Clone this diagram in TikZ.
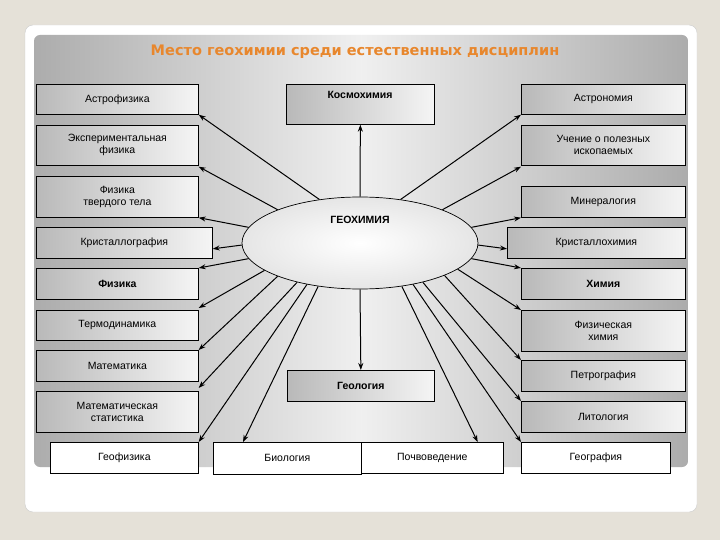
\documentclass[tikz,border=0pt]{standalone}
\usepackage{fontspec}
\setmainfont{Liberation Sans}
\newfontfamily\titlefont{DejaVu Sans}
\usetikzlibrary{shapes.geometric,arrows.meta}
\begin{document}
\begin{tikzpicture}[x=1pt,y=-1pt,
  bx/.style={draw=black,line width=0.7pt,anchor=north west,left color=gray!55,right color=gray!8,font=\fontsize{10.5}{12}\selectfont,align=center,inner sep=1pt},
  wb/.style={draw=black,line width=0.7pt,anchor=north west,fill=white,font=\fontsize{10.5}{12}\selectfont,align=center,inner sep=1pt},
  ar/.style={-{Stealth[length=7pt,width=5pt]},line width=1pt}]
\fill[color={rgb,255:red,229;green,225;blue,216}] (0,0) rectangle (720,540);
\useasboundingbox (0,0) rectangle (720,540);
\fill[white,draw=gray!40,rounded corners=8] (25,25) rectangle (697,512);
\shade[left color=gray!65,right color=gray!65,middle color=gray!12,rounded corners=6] (34,35) rectangle (688,467);
\node[font=\titlefont\bfseries\fontsize{14.5}{16}\selectfont,text={rgb,255:red,232;green,135;blue,45}] (title) at (355,52) {Место геохимии среди естественных дисциплин};
\newcommand{\B}[6]{\node[#1,minimum width=#4-#2,minimum height=#5-#3] (#6) at (#2,#3)}
\B{bx}{36}{84}{198}{114}{a1} {Астрофизика};
\B{bx}{36}{125}{198}{165}{a2} {Экспериментальная\\физика};
\B{bx}{36}{176}{198}{217}{a3} {Физика\\твердого тела};
\B{bx}{36}{227}{212}{258}{a4} {Кристаллография};
\B{bx}{36}{268}{198}{299}{a5} {\bfseries Физика};
\B{bx}{36}{310}{198}{340}{a6} {Термодинамика};
\B{bx}{36}{350}{198}{381}{a7} {Математика};
\B{bx}{36}{391}{198}{432}{a8} {Математическая\\статистика};
\B{wb}{50}{442}{198}{473}{a9} {Геофизика};
\B{wb}{213}{442}{361}{474}{bio} {Биология};
\B{wb}{361}{442}{503}{473}{poch} {Почвоведение};
\B{bx}{286}{84}{434}{124}{kos} {};
\node[font=\bfseries\fontsize{10.5}{12}\selectfont] (kost) at (360,95) {Космохимия};
\B{bx}{287}{370}{434}{401}{geol} {\bfseries Геология};
\B{bx}{521}{84}{685}{114}{b1} {Астрономия};
\B{bx}{521}{125}{685}{165}{b2} {Учение о полезных\\ископаемых};
\B{bx}{521}{186}{685}{217}{b3} {Минералогия};
\B{bx}{507}{227}{685}{258}{b4} {Кристаллохимия};
\B{bx}{521}{268}{685}{299}{b5} {\bfseries Химия};
\B{bx}{521}{310}{685}{351}{b6} {Физическая\\химия};
\B{bx}{521}{360}{685}{391}{b7} {Петрография};
\B{bx}{521}{401}{685}{432}{b8} {Литология};
\B{wb}{521}{442}{670}{473}{b9} {География};
\node[ellipse,draw=black,line width=0.7pt,inner color=white,outer color=gray!20,minimum width=236,minimum height=92] (geo) at (360,243) {};
\node[font=\bfseries\fontsize{10.5}{12}\selectfont] (geot) at (360,220) {ГЕОХИМИЯ};
\draw[ar] (geo.133) -- (a1.south east);
\draw[ar] (geo.158) -- ([yshift=-1]a2.south east);
\draw[ar] (geo.172) -- (a3.south east);
\draw[ar] (geo.181) -- ([yshift=-6]a4.east);
\draw[ar] (geo.188) -- (a5.north east);
\draw[ar] (geo.196) -- ([yshift=2]a6.north east);
\draw[ar] (geo.202) -- (a7.north east);
\draw[ar] (geo.212) -- ([yshift=3]a8.north east);
\draw[ar] (geo.218) -- (a9.north east);
\draw[ar] (geo.226) -- ([xshift=30]bio.north west);
\draw[ar] (geo.270) -- (geol.north);
\draw[ar] (geo.314) -- ([xshift=-26]poch.north east);
\draw[ar] (geo.322) -- (b9.north west);
\draw[ar] (geo.328) -- (b8.north west);
\draw[ar] (geo.339) -- (b7.north west);
\draw[ar] (geo.345) -- (b6.north west);
\draw[ar] (geo.352) -- (b5.north west);
\draw[ar] (geo.359) -- ([yshift=-6]b4.west);
\draw[ar] (geo.8) -- (b3.south west);
\draw[ar] (geo.22) -- ([yshift=-1]b2.south west);
\draw[ar] (geo.47) -- (b1.south west);
\draw[ar] (geo.90) -- (kos.south);
\end{tikzpicture}
\end{document}
